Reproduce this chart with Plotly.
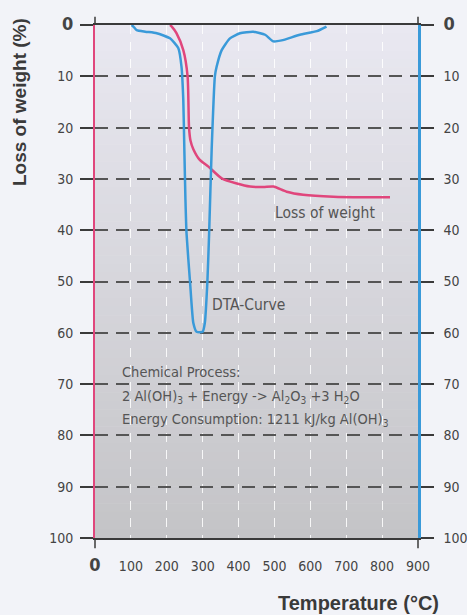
import plotly.graph_objects as go

# ---- data ----
weight_temp = [209, 214, 227, 246, 258, 262, 266, 274, 292, 316, 353, 395, 432, 469, 497, 534, 580, 664, 750, 822]
weight_loss = [0, 0.3, 1.6, 4.9, 10, 20, 22.5, 24.2, 26.3, 27.6, 29.9, 30.9, 31.5, 31.6, 31.5, 32.5, 33.1, 33.5, 33.6, 33.6]

dta_temp = [102, 107, 116, 140, 172, 209, 232, 241, 246, 249, 252, 255, 265, 274, 283, 300, 306, 313, 318, 325,
            334, 339, 353, 376, 404, 441, 474, 497, 520, 571, 618, 645]
dta_value = [0, 0.3, 1.0, 1.3, 1.6, 2.6, 4.5, 8.1, 14.6, 24.4, 34, 40.6, 50.3, 58.1, 59.8, 59.8, 58.1, 50.3, 40.6, 24.4,
             10, 8.1, 4.9, 2.6, 1.6, 1.3, 1.9, 3.2, 3.0, 1.9, 1.2, 0.3]

x_ticks = [0, 100, 200, 300, 400, 500, 600, 700, 800, 900]
y_ticks = [0, 10, 20, 30, 40, 50, 60, 70, 80, 90, 100]

PINK = "#e0467c"
BLUE = "#3a9ad9"
DARK = "#3a3a3a"
TXT = "#555555"
NARROW = "Liberation Sans Narrow, DejaVu Sans Condensed, Liberation Sans, sans-serif"
BOLD = "Liberation Sans, Arial, sans-serif"

big0 = '<span style="font-size:18px"><b>0</b></span>'
x_text = [big0 if v == 0 else str(v) for v in x_ticks]
y_text = [big0 if v == 0 else str(v) for v in y_ticks]

fig = go.Figure()
fig.add_trace(go.Scatter(x=weight_temp, y=weight_loss, mode="lines",
                         line=dict(color=PINK, width=2.5, shape="spline", smoothing=0.6),
                         showlegend=False, hoverinfo="skip"))
fig.add_trace(go.Scatter(x=dta_temp, y=dta_value, mode="lines", yaxis="y2",
                         line=dict(color=BLUE, width=2.5, shape="spline", smoothing=0.5),
                         showlegend=False, hoverinfo="skip"))

# background gradient (styling only)
shapes = []
N = 60
top = (233, 232, 241)
bot = (196, 196, 199)
for i in range(N):
    t = i / (N - 1)
    c = tuple(round(top[k] + (bot[k] - top[k]) * t) for k in range(3))
    shapes.append(dict(type="rect", xref="paper", yref="paper", x0=0, x1=1,
                       y0=1 - (i + 1) / N, y1=1 - i / N + 0.001,
                       fillcolor="rgb(%d,%d,%d)" % c, line=dict(width=0), layer="below"))
# small vertical ticks at the corners
for xp in (0, 1):
    shapes.append(dict(type="line", xref="paper", yref="paper", x0=xp, x1=xp, y0=1, y1=1.016,
                       line=dict(color=DARK, width=1.5)))
    shapes.append(dict(type="line", xref="paper", yref="paper", x0=xp, x1=xp, y0=0, y1=-0.02,
                       line=dict(color=DARK, width=1.5)))

axis_common = dict(range=[100, 0], tickvals=y_ticks, ticktext=y_text, ticks="outside",
                   ticklen=13, tickwidth=1.5, tickcolor=DARK,
                   tickfont=dict(family=NARROW, size=14, color="#444444"),
                   zeroline=False, fixedrange=True, automargin=False)

fig.update_layout(
    width=467, height=615,
    autosize=False,
    margin=dict(l=95, r=49, t=25, b=77, autoexpand=False),
    paper_bgcolor="#f2f3f8",
    plot_bgcolor="rgba(0,0,0,0)",
    shapes=shapes,
    xaxis=dict(range=[0, 900], tickvals=x_ticks, ticktext=x_text, ticks="",
               showgrid=True, gridcolor="rgba(255,255,255,0.85)", gridwidth=1.3, griddash="9px,8px",
               showline=True, linecolor=DARK, linewidth=1.8, mirror=True,
               tickfont=dict(family=NARROW, size=14, color="#444444"),
               ticklabelstandoff=14, zeroline=False, fixedrange=True, automargin=False),
    yaxis=dict(**axis_common, side="left", showgrid=True, gridcolor="#555555", gridwidth=1.5,
               griddash="13px,8px", showline=True, linecolor=PINK, linewidth=2,
               ticklabelstandoff=4),
    yaxis2=dict(**axis_common, side="right", overlaying="y", showgrid=False,
                showline=True, linecolor=BLUE, linewidth=2.5, ticklabelstandoff=7),
    annotations=[
        dict(text="Loss of weight", x=642, y=36.6, xref="x", yref="y", showarrow=False,
             font=dict(family=NARROW, size=15.5, color=TXT)),
        dict(text="DTA-Curve", x=429, y=54.6, xref="x", yref="y", showarrow=False,
             font=dict(family=NARROW, size=15.5, color=TXT)),
        dict(text="Chemical Process:", x=70, y=67.6, xref="x", yref="y", showarrow=False,
             xanchor="left", font=dict(family=NARROW, size=14.5, color=TXT)),
        dict(text="2 Al(OH)<sub>3</sub> + Energy -> Al<sub>2</sub>O<sub>3</sub> +3 H<sub>2</sub>O",
             x=70, y=72.5, xref="x", yref="y", showarrow=False,
             xanchor="left", font=dict(family=NARROW, size=14.5, color=TXT)),
        dict(text="Energy Consumption: 1211 kJ/kg Al(OH)<sub>3</sub>", x=70, y=77, xref="x", yref="y",
             showarrow=False, xanchor="left", font=dict(family=NARROW, size=14.5, color=TXT)),
        dict(text="<b>Loss of weight (%)</b>", x=-0.232, y=0.85, xref="paper", yref="paper",
             xanchor="center", yanchor="middle",
             showarrow=False, textangle=-90, font=dict(family=BOLD, size=19, color=DARK)),
        dict(text="<b>Temperature (°C)</b>", x=1.071, y=-0.127, xref="paper", yref="paper",
             showarrow=False, xanchor="right", yanchor="middle",
             font=dict(family=BOLD, size=20, color=DARK)),
    ],
)

fig.write_html("out.html", config={"displayModeBar": False},
               post_script="document.body.style.margin='0';")
